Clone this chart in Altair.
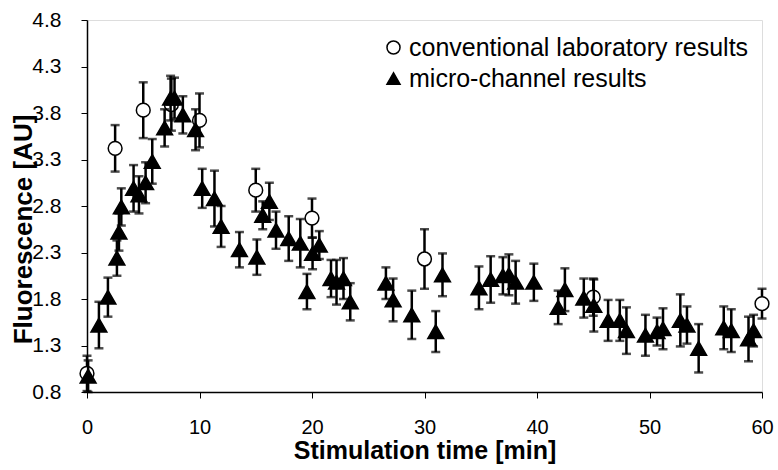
import altair as alt
import pandas as pd

# conventional laboratory results (open circles)
conv_t = [0, 2.5, 5, 7.5, 10, 15, 20, 30, 45, 60]
conv_v = [1.00, 3.42, 3.83, 3.89, 3.72, 2.97, 2.67, 2.23, 1.82, 1.75]
conv_e = [0.19, 0.25, 0.30, 0.28, 0.29, 0.23, 0.21, 0.32, 0.20, 0.16]

# micro-channel results (filled triangles)
mc_t = [0.1, 1.06, 1.86, 2.66, 2.84, 3.05, 4.14, 4.62, 5.21, 5.8, 6.9, 7.43, 7.78,
        8.52, 9.65, 10.24, 11.33, 11.92, 13.55, 15.1, 15.62, 16.21, 16.8, 17.93,
        18.96, 19.55, 20.05, 20.65, 21.69, 22.18, 22.8, 23.4, 26.57, 27.21, 28.87,
        31.0, 31.6, 34.84, 35.88, 36.97, 37.5, 38.1, 39.72, 41.88, 42.48, 44.16,
        45.05, 46.32, 47.36, 47.95, 49.64, 50.67, 51.2, 52.74, 53.33, 54.37, 56.6,
        57.27, 58.8, 59.25]
mc_v = [0.97, 1.52, 1.82, 2.24, 2.52, 2.79, 2.99, 2.92, 3.05, 3.28, 3.64, 3.96, 3.96,
        3.78, 3.62, 2.99, 2.88, 2.58, 2.33, 2.25, 2.70, 2.85, 2.54, 2.45,
        2.40, 1.88, 2.29, 2.38, 2.02, 1.98, 2.02, 1.77, 1.97, 1.79, 1.63,
        1.45, 2.06, 1.92, 2.01, 2.05, 2.06, 1.98, 1.98, 1.71, 1.90, 1.81,
        1.73, 1.57, 1.57, 1.46, 1.41, 1.45, 1.48, 1.57, 1.52, 1.27, 1.49,
        1.46, 1.37, 1.46]
mc_e = [0.17, 0.25, 0.21, 0.19, 0.20, 0.20, 0.25, 0.20, 0.22, 0.24, 0.20, 0.24, 0.22,
        0.20, 0.22, 0.21, 0.30, 0.22, 0.19, 0.19, 0.15, 0.20, 0.20, 0.24,
        0.26, 0.19, 0.17, 0.15, 0.20, 0.24, 0.22, 0.20, 0.17, 0.23, 0.26,
        0.22, 0.23, 0.23, 0.25, 0.20, 0.22, 0.23, 0.20, 0.18, 0.23, 0.21,
        0.28, 0.22, 0.22, 0.25, 0.22, 0.15, 0.22, 0.28, 0.20, 0.26, 0.23,
        0.23, 0.24, 0.17]

series_names = ["conventional laboratory results", "micro-channel results"]
y_ticks = [0.8, 1.3, 1.8, 2.3, 2.8, 3.3, 3.8, 4.3, 4.8]
x_ticks = [0, 10, 20, 30, 40, 50, 60]

conv = pd.DataFrame({"t": conv_t, "v": conv_v, "e": conv_e, "series": series_names[0]})
mc = pd.DataFrame({"t": mc_t, "v": mc_v, "e": mc_e, "series": series_names[1]})
for d in (conv, mc):
    d["lo"] = d["v"] - d["e"]
    d["hi"] = d["v"] + d["e"]

FONT = "Liberation Sans"

x_scale = alt.Scale(domain=[0, 60], nice=False)
x_axis = alt.Axis(values=x_ticks, title="Stimulation time [min]", grid=False,
                  labelFontSize=20, titleFontSize=25, titleFontWeight="bold",
                  labelFont=FONT, titleFont=FONT, labelColor="black",
                  titleColor="black", domainColor="black", tickColor="black",
                  domainWidth=1.5, tickWidth=1, tickSize=6, labelPadding=19,
                  titlePadding=1, labelFlush=False)
y_scale = alt.Scale(domain=[0.8, 4.8], nice=False, zero=False)
y_axis = alt.Axis(values=y_ticks, format=".1f", title="Fluorescence [AU]", grid=False,
                  labelFontSize=21, titleFontSize=26, titleFontWeight="bold",
                  labelFont=FONT, titleFont=FONT, labelColor="black", titleColor="black",
                  domainColor="black", tickColor="black", domainWidth=1.5, tickWidth=1,
                  tickSize=6, labelPadding=20, labelFlush=False,
                  titleX=-64, titleY=209, titleAngle=270,
                  titleAlign="center", titleBaseline="middle")

legend = alt.Legend(title=None, orient="none", legendX=294, legendY=15,
                    labelFontSize=25, labelFont=FONT, labelColor="black", labelLimit=0,
                    symbolSize=170, symbolStrokeColor="black", symbolStrokeWidth=1.5,
                    rowPadding=5, labelOffset=3, padding=0)
shape_enc = alt.Shape("series:N", scale=alt.Scale(domain=series_names,
                                                  range=["circle", "triangle-up"]),
                      legend=legend)
fill_enc = alt.Fill("series:N", scale=alt.Scale(domain=series_names,
                                                range=["white", "black"]),
                    legend=legend)
stroke_enc = alt.Stroke("series:N", scale=alt.Scale(domain=series_names,
                                                    range=["black", "black"]),
                        legend=legend)


def layers(d, size):
    base = alt.Chart(d)
    X = alt.X("t:Q", scale=x_scale, axis=x_axis)
    rule = base.mark_rule(color="black", strokeWidth=2.5).encode(
        x=X, y=alt.Y("lo:Q", scale=y_scale, axis=y_axis), y2="hi:Q")
    cap_lo = base.mark_tick(color="black", orient="horizontal", size=9, thickness=2.5).encode(
        x=X, y=alt.Y("lo:Q", scale=y_scale, axis=y_axis))
    cap_hi = base.mark_tick(color="black", orient="horizontal", size=9, thickness=2.5).encode(
        x=X, y=alt.Y("hi:Q", scale=y_scale, axis=y_axis))
    pts = base.mark_point(opacity=1, strokeWidth=1.5, size=size).encode(
        x=X, y=alt.Y("v:Q", scale=y_scale, axis=y_axis),
        shape=shape_enc, fill=fill_enc, stroke=stroke_enc)
    return [rule, cap_lo, cap_hi, pts]


chart = alt.layer(*layers(conv, 190), *layers(mc, 250)).properties(
    width=675, height=372,
    autosize=alt.AutoSizeParams(type="none"),
    padding={"left": 87, "top": 20, "right": 16, "bottom": 78},
).configure_view(stroke="#888888", strokeDash=[1, 2], strokeWidth=1
).configure(background="white")

chart.save("out.html", embed_options={"renderer": "svg", "actions": False})
